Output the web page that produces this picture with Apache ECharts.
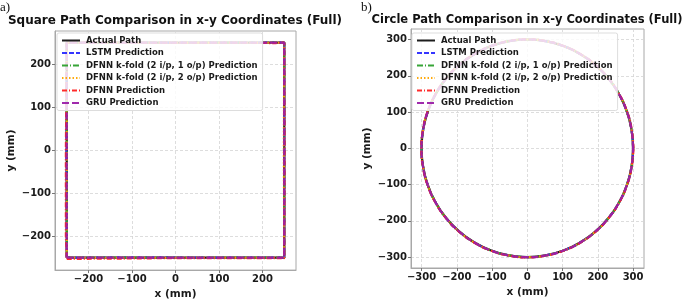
<!DOCTYPE html>
<html>
<head>
<meta charset="utf-8">
<script src="https://cdn.jsdelivr.net/npm/echarts@6/dist/echarts.min.js"></script>
<style>
  html, body { margin: 0; padding: 0; background: #fff; }
  #chart { width: 685px; height: 305px; }
</style>
</head>
<body>
<div id="chart"></div>
<script>
// ---- data (mm) ----
const seriesNames = ['Actual Path', 'LSTM Prediction', 'DFNN k-fold (2 i/p, 1 o/p) Prediction',
  'DFNN k-fold (2 i/p, 2 o/p) Prediction', 'DFNN Prediction', 'GRU Prediction'];

const squareTicks = [-200, -100, 0, 100, 200];
const circleTicks = [-300, -200, -100, 0, 100, 200, 300];

const squareActual = [[-250, -250], [250, -250], [250, 250], [-250, 250], [-250, -250]];
const squareLSTM = [[-250, -250], [-20, -249], [0, -250], [250, -250], [250, 250], [-250, 250], [-251, 0], [-250, -250]];
const squareKfold1 = [[-250, -250], [250, -250], [250, 0], [250, 250], [-250, 250], [-250, -250]];
const squareKfold2 = [[-250, -250], [250, -250], [249, 0], [250, 250], [-250, 250], [-250, -250]];
const squareDFNN = [[-250, -253], [-100, -252], [0, -251], [250, -251], [251, 0], [250, 250], [230, 249],
  [-250, 250], [-252, 0], [-252, -200], [-250, -253]];
const squareGRU = [[-250, -250], [250, -250], [250, 250], [-250, 250], [-250, -250]];

const circleActual = [[300, 0], [295.4, 52.1], [281.9, 102.6], [259.8, 150], [229.8, 192.8], [192.8, 229.8],
  [150, 259.8], [102.6, 281.9], [52.1, 295.4], [0, 300], [-52.1, 295.4], [-102.6, 281.9], [-150, 259.8],
  [-192.8, 229.8], [-229.8, 192.8], [-259.8, 150], [-281.9, 102.6], [-295.4, 52.1], [-300, 0],
  [-295.4, -52.1], [-281.9, -102.6], [-259.8, -150], [-229.8, -192.8], [-192.8, -229.8], [-150, -259.8],
  [-102.6, -281.9], [-52.1, -295.4], [0, -300], [52.1, -295.4], [102.6, -281.9], [150, -259.8],
  [192.8, -229.8], [229.8, -192.8], [259.8, -150], [281.9, -102.6], [295.4, -52.1], [300, 0]];
const circleLSTM = circleActual;
const circleKfold1 = circleActual;
const circleKfold2 = circleActual;
const circleDFNN = [[301, 0], [296, 52.3], [282.5, 102.9], [260.2, 150.3], [230.3, 193.1], [193.1, 230.2],
  [150.2, 260.1], [102.8, 282.3], [52.2, 295.9], [0, 300.6], [-52.2, 295.8], [-102.8, 282.3], [-150.2, 260.1],
  [-193.1, 230.1], [-230.2, 193.1], [-260.3, 150.2], [-282.4, 102.8], [-296, 52.2], [-300.7, 0],
  [-296, -52.2], [-282.5, -102.8], [-260.2, -150.3], [-230.2, -193.1], [-193.1, -230.3], [-150.2, -260.2],
  [-102.8, -282.4], [-52.2, -296], [0, -300.8], [52.2, -296], [102.8, -282.4], [150.2, -260.2],
  [193.1, -230.2], [230.2, -193.1], [260.2, -150.2], [282.4, -102.8], [296, -52.2], [301, 0]];
const circleGRU = circleActual;

// ---- styles ----
const styles = [
  {color: '#111111', type: 'solid', width: 2.2},
  {color: '#2a2aff', type: [5, 2], width: 2.2},
  {color: '#2ca02c', type: [6, 2, 1, 2], width: 2.2},
  {color: '#ffa500', type: [1.5, 2], width: 2.2},
  {color: '#ff2020', type: [5, 2, 1, 2], width: 2.2},
  {color: '#9b1fa8', type: [7, 3], width: 2.2}
];

const fontFam = '"DejaVu Sans", sans-serif';
const minus = v => String(v).replace('-', '\u2212');

function makeSeries(datas, idx, smooth) {
  return datas.map((d, i) => ({
    name: seriesNames[i],
    type: 'line',
    xAxisIndex: idx,
    yAxisIndex: idx,
    data: d,
    symbol: 'none',
    smooth: smooth,
    clip: true,
    animation: false,
    lineStyle: {color: styles[i].color, type: styles[i].type, width: styles[i].width, opacity: 0.95},
    itemStyle: {color: styles[i].color},
    z: 2 + i
  }));
}

function axis(idx, range, ticks, name, nameGap) {
  return {
    type: 'value',
    gridIndex: idx,
    min: -range[0],
    max: range[1],
    name: name,
    nameLocation: 'middle',
    nameGap: nameGap,
    nameTextStyle: {fontFamily: fontFam, fontWeight: 'bold', fontSize: 10.5, color: '#1a1a1a'},
    axisLine: {show: true, onZero: false, lineStyle: {color: '#a8a8a8', width: 1}},
    axisTick: {show: true, customValues: ticks, length: 3, lineStyle: {color: '#777'}},
    axisLabel: {customValues: ticks, formatter: minus, fontFamily: fontFam, fontWeight: 'bold',
      fontSize: 10, color: '#1a1a1a', margin: 4},
    splitLine: {show: true, lineStyle: {color: '#d4d4d4', type: [3, 2], width: 0.8}}
  };
}

function legend(left, top) {
  return {
    left: left, top: top,
    orient: 'vertical',
    data: seriesNames,
    itemWidth: 18, itemHeight: 8, itemGap: 3.5,
    padding: [3, 5, 3, 4],
    backgroundColor: 'rgba(255,255,255,0.82)',
    borderColor: '#dddddd', borderWidth: 1, borderRadius: 2,
    itemStyle: {opacity: 0},
    textStyle: {fontFamily: fontFam, fontWeight: 'bold', fontSize: 8.5, color: '#1a1a1a', padding: [0, 0, 0, 1]},
    selectedMode: false,
    z: 20
  };
}

const tagStyle = {fontFamily: '"Liberation Serif", serif', fontWeight: 'normal', fontSize: 13, color: '#111'};
const titleStyle = {fontFamily: fontFam, fontWeight: 'bold', fontSize: 12, color: '#111'};

const chart = echarts.init(document.getElementById('chart'), null, {renderer: 'canvas'});
chart.setOption({
  animation: false,
  backgroundColor: '#fff',
  title: [
    {text: 'a)', left: 0, top: 1, padding: 0, textStyle: tagStyle},
    {text: 'b)', left: 361, top: 1, padding: 0, textStyle: tagStyle},
    {text: 'Square Path Comparison in x-y Coordinates (Full)', left: 175, top: 15, padding: 0,
      textAlign: 'center', textStyle: titleStyle},
    {text: 'Circle Path Comparison in x-y Coordinates (Full)', left: 527, top: 14, padding: 0,
      textAlign: 'center', textStyle: Object.assign({}, titleStyle, {fontSize: 11.5})}
  ],
  legend: [legend(57, 33), legend(412, 33)],
  grid: [
    {left: 55, top: 31, width: 241, height: 247, show: true, borderColor: '#a8a8a8', borderWidth: 1, backgroundColor: 'transparent'},
    {left: 411, top: 29, width: 233, height: 239, show: true, borderColor: '#a8a8a8', borderWidth: 1, backgroundColor: 'transparent'}
  ],
  xAxis: [
    axis(0, [277, 277], squareTicks, 'x (mm)', 16),
    axis(1, [330, 331], circleTicks, 'x (mm)', 16)
  ],
  yAxis: [
    axis(0, [279, 277], squareTicks, 'y (mm)', 38),
    axis(1, [330, 329], circleTicks, 'y (mm)', 38)
  ],
  series: [
    ...makeSeries([squareActual, squareLSTM, squareKfold1, squareKfold2, squareDFNN, squareGRU], 0, false),
    ...makeSeries([circleActual, circleLSTM, circleKfold1, circleKfold2, circleDFNN, circleGRU], 1, true)
  ]
});
</script>
</body>
</html>
